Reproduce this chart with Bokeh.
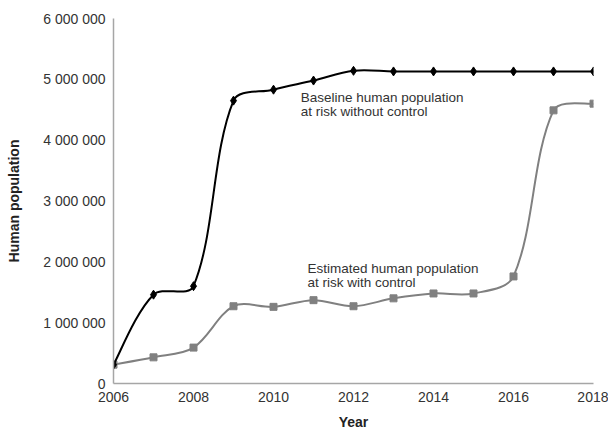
from bokeh.plotting import figure
from bokeh.models import Range1d, FixedTicker, Label, ColumnDataSource
from bokeh.embed import file_html
from bokeh.resources import INLINE

years = [2006, 2007, 2008, 2009, 2010, 2011, 2012, 2013, 2014, 2015, 2016, 2017, 2018]
baseline = [310000, 1460000, 1600000, 4650000, 4830000, 4980000, 5140000,
            5130000, 5130000, 5130000, 5130000, 5130000, 5130000]
with_control = [310000, 430000, 590000, 1270000, 1260000, 1370000, 1270000,
                1400000, 1480000, 1480000, 1760000, 4490000, 4600000]
x_ticks = [2006, 2008, 2010, 2012, 2014, 2016, 2018]
y_ticks = [0, 1000000, 2000000, 3000000, 4000000, 5000000, 6000000]
y_tick_labels = ["0", "1 000 000", "2 000 000", "3 000 000", "4 000 000", "5 000 000", "6 000 000"]
label_baseline = ["Baseline human population", "at risk without control"]
label_control = ["Estimated human population", "at risk with control"]

FONT = "Liberation Sans"
X0, X1, Y0, Y1 = 2006, 2018, 0, 6000000
FRAME_W, FRAME_H = 480, 365
SX = FRAME_W / (X1 - X0)   # px per x unit
SY = FRAME_H / (Y1 - Y0)   # px per y unit


def smooth_segments(xs, ys):
    """Excel-like smoothed line: Bezier segments whose tangents are weighted by
    the on-screen lengths of neighbouring segments."""
    n = len(xs)

    def dist(i, j):
        return (((xs[j] - xs[i]) * SX) ** 2 + ((ys[j] - ys[i]) * SY) ** 2) ** 0.5

    d = dict(x0=[], y0=[], x1=[], y1=[], cx0=[], cy0=[], cx1=[], cy1=[])
    for i in range(n - 1):
        im = i - 1 if i > 0 else i
        dm = dist(im, i)
        dp = dist(i, i + 1)
        f = dp / (dm + dp) / 3.0 if i > 0 else 1.0 / 3.0
        tx, ty = (xs[i + 1] - xs[im]), (ys[i + 1] - ys[im])
        if i == 0:
            tx, ty = tx * 0.5, ty * 0.5
        cx0, cy0 = xs[i] + tx * f, ys[i] + ty * f
        j = i + 1
        jp = j + 1 if j + 1 < n else j
        dm2 = dist(i, j)
        dp2 = dist(j, jp)
        f2 = dm2 / (dm2 + dp2) / 3.0 if jp != j else 1.0 / 3.0
        tx2, ty2 = (xs[jp] - xs[i]), (ys[jp] - ys[i])
        if jp == j:
            tx2, ty2 = tx2 * 0.5, ty2 * 0.5
        cx1, cy1 = xs[j] - tx2 * f2, ys[j] - ty2 * f2
        d["x0"].append(xs[i]); d["y0"].append(ys[i])
        d["x1"].append(xs[j]); d["y1"].append(ys[j])
        d["cx0"].append(cx0); d["cy0"].append(cy0)
        d["cx1"].append(cx1); d["cy1"].append(cy1)
    return ColumnDataSource(d)


p = figure(width=608, height=432, output_backend="svg", toolbar_location=None,
           x_range=Range1d(X0, X1), y_range=Range1d(Y0, Y1),
           min_border_left=113, min_border_right=15, min_border_top=18, min_border_bottom=49)
p.outline_line_color = None
p.grid.visible = False
p.background_fill_color = "white"
p.border_fill_color = "white"

gray = "#808080"
p.bezier(x0="x0", y0="y0", x1="x1", y1="y1", cx0="cx0", cy0="cy0", cx1="cx1", cy1="cy1",
         source=smooth_segments(years, with_control), line_color=gray, line_width=2)
p.scatter(years, with_control, marker="square", size=7, fill_color=gray, line_color=gray)

p.bezier(x0="x0", y0="y0", x1="x1", y1="y1", cx0="cx0", cy0="cy0", cx1="cx1", cy1="cy1",
         source=smooth_segments(years, baseline), line_color="black", line_width=2)
p.scatter(years, baseline, marker="diamond", size=9, fill_color="black", line_color="black")

for ax in (p.xaxis[0], p.yaxis[0]):
    ax.axis_line_color = "#a6a6a6"
    ax.axis_line_width = 1.5
    ax.major_tick_line_color = None
    ax.minor_tick_line_color = None
    ax.major_tick_out = 0
    ax.major_tick_in = 0
    ax.minor_tick_out = 0
    ax.minor_tick_in = 0
    ax.major_label_text_font = FONT
    ax.major_label_text_font_size = "14px"
    ax.major_label_text_color = "#333333"
    ax.axis_label_text_font = FONT
    ax.axis_label_text_font_size = "14px"
    ax.axis_label_text_font_style = "bold"
    ax.axis_label_text_color = "#222222"

p.xaxis.ticker = FixedTicker(ticks=x_ticks)
p.xaxis.axis_label = "Year"
p.xaxis.major_label_standoff = 8
p.xaxis.axis_label_standoff = 9

p.yaxis.ticker = FixedTicker(ticks=y_ticks)
p.yaxis.major_label_overrides = {t: l for t, l in zip(y_ticks, y_tick_labels)}
p.yaxis.axis_label = "Human population"
p.yaxis.major_label_standoff = 8
p.yaxis.axis_label_standoff = 18

for txt, yy in zip(label_baseline, [4830000, 4600000]):
    p.add_layout(Label(x=2010.68, y=yy, text=txt, text_font=FONT, text_font_size="13.5px",
                       text_color="#333333", text_baseline="top"))
for txt, yy in zip(label_control, [2010000, 1790000]):
    p.add_layout(Label(x=2010.85, y=yy, text=txt, text_font=FONT, text_font_size="13.5px",
                       text_color="#333333", text_baseline="top"))

open("out.html", "w").write(file_html(p, INLINE))
